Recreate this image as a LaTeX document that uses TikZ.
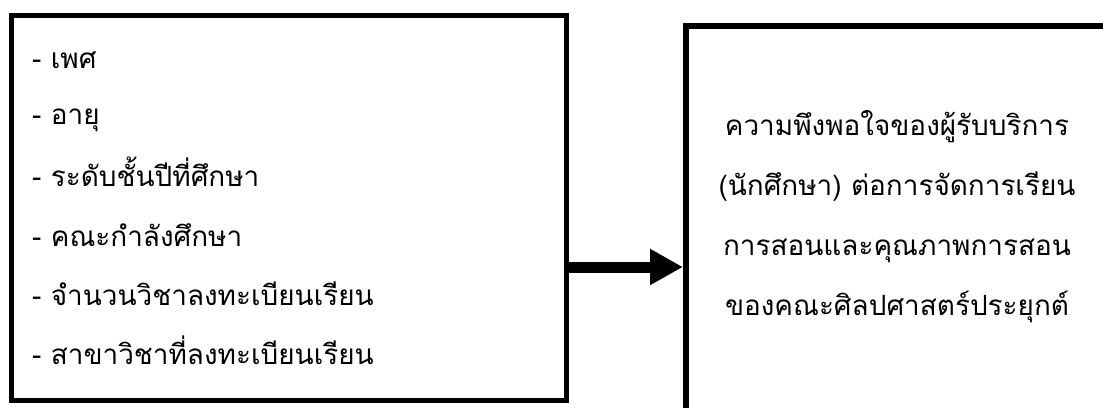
\documentclass[tikz,border=0pt]{standalone}
\usepackage{fontspec}
\newfontfamily\thaifont[Script=Thai]{Loma}
\usetikzlibrary{arrows.meta}
\begin{document}
\begin{tikzpicture}[x=1bp,y=-1bp,
  frame/.style={draw=black,line width=5bp,inner sep=0pt},
  item/.style={anchor=base west,inner sep=0pt,font=\thaifont\fontsize{28}{31}\selectfont},
  ritem/.style={anchor=base,inner sep=0pt,font=\thaifont\fontsize{28}{31}\selectfont},
  bigarrow/.style={line width=11bp,-{Triangle[length=33bp,width=34bp]}}]
\useasboundingbox (0,0) rectangle (1103,407);
\fill[white] (0,0) rectangle (1103,407);
\node[frame,minimum width=554bp,minimum height=384.5bp] (L) at (289,207.75) {};
\node[frame,line width=6bp,minimum width=440bp,minimum height=410bp] (R) at (906,231) {};
\node[item] (l1) at (32,68) {- เพศ};
\node[item] (l2) at (32,124) {- อายุ};
\node[item] (l3) at (32,186) {- ระดับชั้นปีที่ศึกษา};
\node[item] (l4) at (32,246) {- คณะกำลังศึกษา};
\node[item] (l5) at (32,305) {- จำนวนวิชาลงทะเบียนเรียน};
\node[item] (l6) at (32,364) {- สาขาวิชาที่ลงทะเบียนเรียน};
\node[ritem] (r1) at (897,135) {ความพึงพอใจของผู้รับบริการ};
\node[ritem] (r2) at (897,195) {(นักศึกษา) ต่อการจัดการเรียน};
\node[ritem] (r3) at (897,255) {การสอนและคุณภาพการสอน};
\node[ritem] (r4) at (897,315) {ของคณะศิลปศาสตร์ประยุกต์};
\coordinate (ay) at (620,267);
\draw[bigarrow] (L.east |- ay) -- (R.west |- ay);
\end{tikzpicture}
\end{document}
